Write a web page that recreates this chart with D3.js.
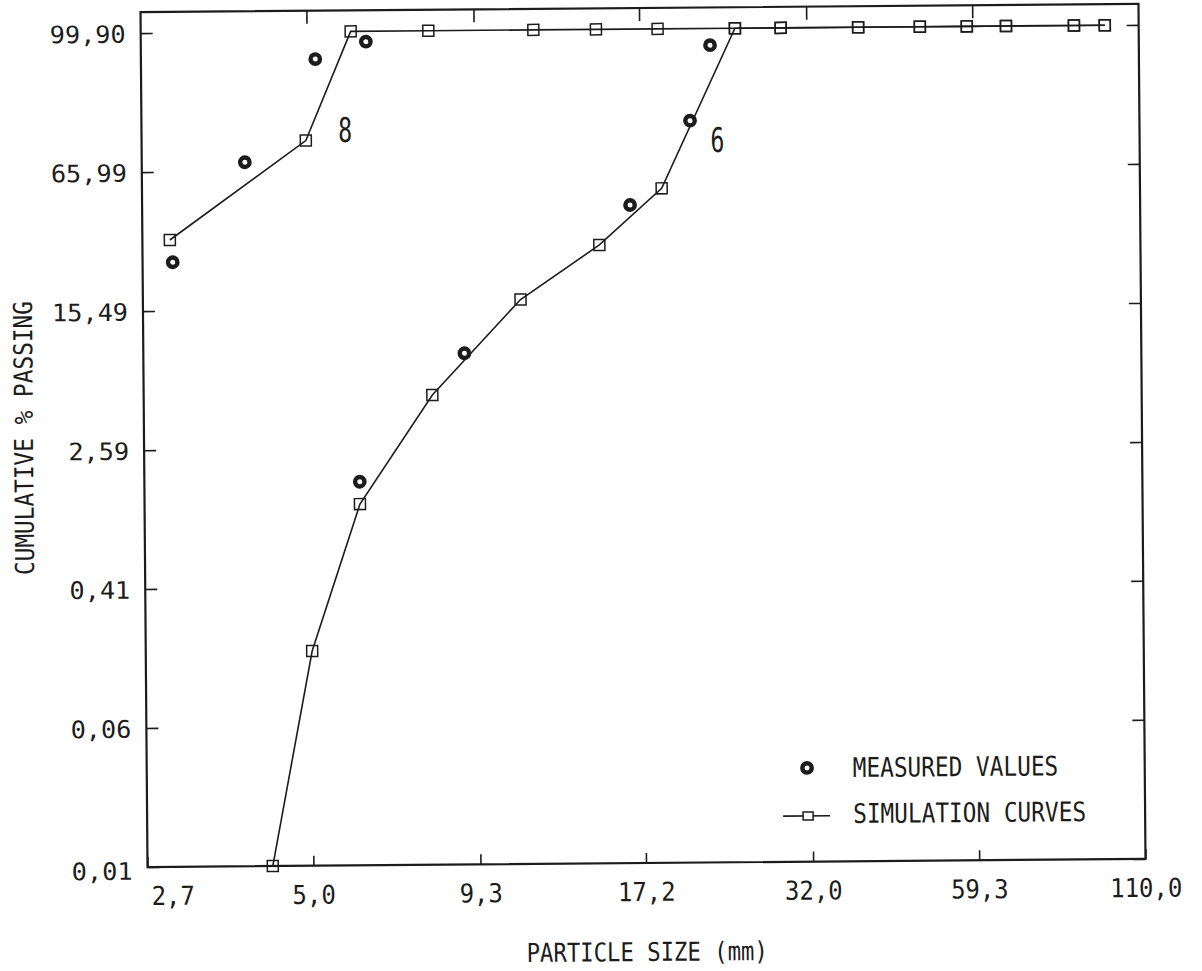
<!DOCTYPE html>
<html><head><meta charset="utf-8">
<script src="https://cdn.jsdelivr.net/npm/d3@7"></script>
<style>
html,body{margin:0;padding:0;background:#fff;}
svg{display:block;}
</style></head><body>
<svg id="chart" width="1202" height="971"></svg>
<script>
// Axis grid: particle size (mm, log) and cumulative % passing (Rosin-Rammler)
const xTickValues = [2.7, 5.0, 9.3, 17.2, 32.0, 59.3, 110.0];
const yTickValues = [0.01, 0.0641, 0.41, 2.59, 15.49, 65.99, 99.90];

// Simulation curve, stream 8
const simSizes8   = [2.99, 4.97, 5.89, 7.86, 11.61, 14.65, 18.42, 24.55, 29.1, 38.8, 48.8, 58.1, 67.2, 86.5, 97.0];
const simPassing8 = [35.2, 80.1, 99.9, 99.9, 99.9, 99.9, 99.9, 99.9, 99.9, 99.9, 99.9, 99.9, 99.9, 99.9, 99.9];

// Simulation curve, stream 6
const simSizes6   = [4.30, 5.01, 6.01, 7.89, 10.98, 14.74, 18.61, 24.55, 29.1, 38.8, 48.8, 58.1, 67.2, 86.5, 97.0];
const simPassing6 = [0.01, 0.176, 1.24, 5.18, 17.19, 32.13, 55.96, 99.9, 99.9, 99.9, 99.9, 99.9, 99.9, 99.9, 99.9];

// Measured values
const measSizes8   = [3.02, 3.96, 5.16, 6.23];
const measPassing8 = [27.55, 70.36, 99.17, 99.755];
const measSizes6   = [6.01, 8.90, 16.54, 20.72, 22.37];
const measPassing6 = [1.668, 8.84, 48.24, 86.71, 99.60];

const curveLabels = ["8", "6"];
const legendLabels = ["MEASURED VALUES", "SIMULATION CURVES"];
const xTitle = "PARTICLE SIZE (mm)";
const yTitle = "CUMULATIVE % PASSING";

const svg = d3.select("#chart");
const MONO = "'DejaVu Sans Mono', 'Liberation Mono', monospace";
const INK = "#1c1c1c";

// the sheet sits slightly skewed on the scanner
const plot = { left: 144, right: 1142, top: 8, bottom: 863 };
const g = svg.append("g").attr("transform", "rotate(-0.47, 642.5, 435.5)");

const rr = p => Math.log(-Math.log(1 - p / 100));
const x = d3.scaleLog().domain([2.7, 110]).range([plot.left, plot.right]);
const y = d3.scaleLinear().domain([rr(0.01), rr(99.9)]).range([plot.bottom, 29]);

const commaFmt = f => v => f(v).replace(".", ",");
const fmtX = commaFmt(d3.format(".1f"));
const fmtY = commaFmt(d3.format(".2f"));
const pInv = z => 100 * (1 - Math.exp(-Math.exp(z)));

function squeeze(sel, size, cw) {
  sel.style("font-family", MONO).style("font-size", size + "px")
    .attr("fill", INK).attr("stroke", "none")
    .attr("lengthAdjust", "spacingAndGlyphs")
    .attr("textLength", function () { return this.textContent.length * cw; });
}

function styleAxis(sel) {
  sel.select(".domain").remove();
  sel.selectAll(".tick line").attr("stroke", INK).attr("stroke-width", 1.6);
}

// bottom axis
const gx = g.append("g").attr("transform", `translate(0,${plot.bottom})`)
  .call(d3.axisBottom(x).tickValues(xTickValues).tickSize(-10).tickFormat(fmtX));
styleAxis(gx);
gx.selectAll(".tick text").attr("y", 38).attr("dy", null)
  .attr("x", d => d === 2.7 ? 25 : 0);
squeeze(gx.selectAll(".tick text"), 26, 14.4);

// top axis
const gt = g.append("g").attr("transform", `translate(0,${plot.top})`)
  .call(d3.axisTop(x).tickValues(xTickValues.slice(1, -1)).tickSize(-13).tickFormat(""));
styleAxis(gt);

// left axis
const yz = yTickValues.map(rr);
const gy = g.append("g").attr("transform", `translate(${plot.left},0)`)
  .call(d3.axisLeft(y).tickValues(yz).tickSize(-12).tickFormat(z => fmtY(pInv(z))));
styleAxis(gy);
gy.selectAll(".tick text").attr("x", -15).attr("dy", null)
  .attr("y", (d, i) => i === 0 ? 12 : 9);
squeeze(gy.selectAll(".tick text"), 24, 15.2);

// right axis
const gr = g.append("g").attr("transform", `translate(${plot.right},0)`)
  .call(d3.axisRight(y).tickValues(yz).tickSize(-12).tickFormat(""));
styleAxis(gr);

// frame
g.append("rect")
  .attr("x", plot.left).attr("y", plot.top)
  .attr("width", plot.right - plot.left).attr("height", plot.bottom - plot.top)
  .attr("fill", "none").attr("stroke", INK).attr("stroke-width", 2.2);

// axis titles
squeeze(g.append("text").attr("x", 643).attr("y", 961)
  .attr("text-anchor", "middle").text(xTitle), 26, 13.4);
squeeze(g.append("text").attr("transform", "translate(33,433) rotate(-90)")
  .attr("text-anchor", "middle").text(yTitle), 26, 13.7);

// simulation curves
const line = d3.line().x(d => x(d[0])).y(d => y(rr(d[1])));
const simSeries = [
  d3.zip(simSizes8, simPassing8),
  d3.zip(simSizes6, simPassing6)
];
simSeries.forEach(pts => {
  g.append("path").datum(pts).attr("d", line)
    .attr("fill", "none").attr("stroke", INK).attr("stroke-width", 1.6);
  g.selectAll(null).data(pts).join("rect")
    .attr("x", d => x(d[0]) - 5.5).attr("y", d => y(rr(d[1])) - 5.5)
    .attr("width", 11).attr("height", 11)
    .attr("fill", "none").attr("stroke", INK).attr("stroke-width", 1.5);
});

// measured values
const measured = d3.zip(measSizes8, measPassing8).concat(d3.zip(measSizes6, measPassing6));
g.selectAll(null).data(measured).join("circle")
  .attr("cx", d => x(d[0])).attr("cy", d => y(rr(d[1])))
  .attr("r", 4.7).attr("fill", "#fff").attr("stroke", INK).attr("stroke-width", 4.4);

// curve labels
squeeze(g.append("text").attr("x", 347.6).attr("y", 139.6).attr("text-anchor", "middle")
  .text(curveLabels[0]), 34, 14);
squeeze(g.append("text").attr("x", 719.8).attr("y", 152.6).attr("text-anchor", "middle")
  .text(curveLabels[1]), 34, 14);

// legend
const lg = g.append("g");
lg.append("circle").attr("cx", 804.3).attr("cy", 769.3).attr("r", 4.7)
  .attr("fill", "#fff").attr("stroke", INK).attr("stroke-width", 4.4);
squeeze(lg.append("text").attr("x", 850).attr("y", 778.7).text(legendLabels[0]), 27, 13.7);
lg.append("line").attr("x1", 780).attr("x2", 827).attr("y1", 817.3).attr("y2", 817.3)
  .attr("stroke", INK).attr("stroke-width", 1.6);
lg.append("rect").attr("x", 800).attr("y", 813.3).attr("width", 10).attr("height", 8)
  .attr("fill", "#fff").attr("stroke", INK).attr("stroke-width", 1.5);
squeeze(lg.append("text").attr("x", 850).attr("y", 824.7).text(legendLabels[1]), 27, 13.7);
</script>
</body></html>
